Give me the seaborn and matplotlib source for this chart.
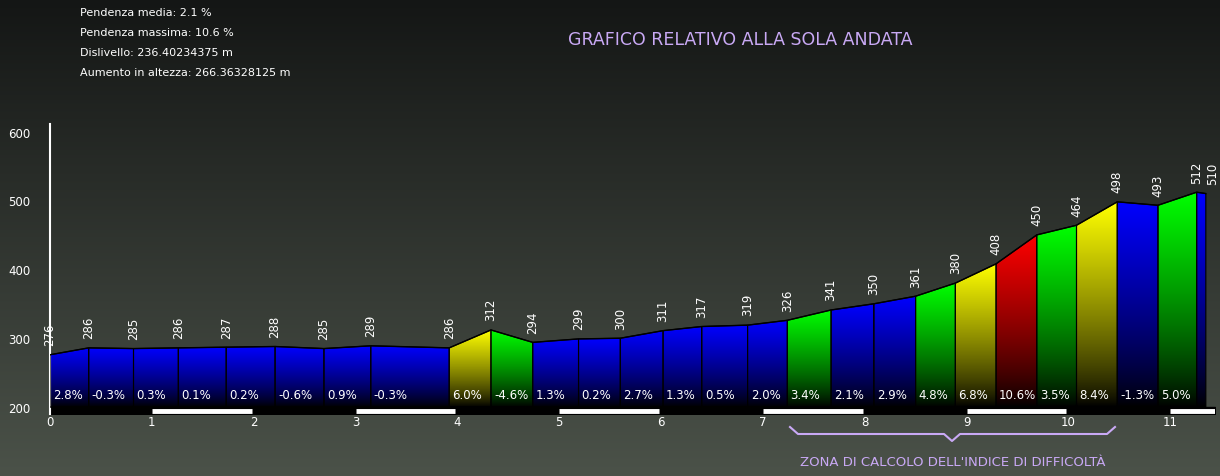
import numpy as np
import pandas as pd
import matplotlib
matplotlib.use("Agg")
import matplotlib.pyplot as plt
import seaborn as sns
from matplotlib.patches import Polygon

# Dati del profilo altimetrico (km, quota in m)
km = [0.0, 0.38, 0.82, 1.26, 1.73, 2.21, 2.69, 3.15, 3.92, 4.33, 4.74, 5.19, 5.60,
      6.02, 6.40, 6.85, 7.24, 7.67, 8.09, 8.50, 8.89, 9.29, 9.69, 10.08, 10.48,
      10.88, 11.26, 11.35]
quota = [276, 286, 285, 286, 287, 288, 285, 289, 286, 312, 294, 299, 300, 311, 317,
         319, 326, 341, 350, 361, 380, 408, 450, 464, 498, 493, 512, 510]
pendenze = ["2.8%", "-0.3%", "0.3%", "0.1%", "0.2%", "-0.6%", "0.9%", "-0.3%", "6.0%",
            "-4.6%", "1.3%", "0.2%", "2.7%", "1.3%", "0.5%", "2.0%", "3.4%", "2.1%",
            "2.9%", "4.8%", "6.8%", "10.6%", "3.5%", "8.4%", "-1.3%", "5.0%", ""]
info = ["Pendenza media: 2.1 %", "Pendenza massima: 10.6 %",
        "Dislivello: 236.40234375 m", "Aumento in altezza: 266.36328125 m"]
yticks = [200, 300, 400, 500, 600]
xticks = list(range(12))

LAVANDA = "#c9a9f5"
W, H = 1220, 477


def colore(p):
    if p == "":
        return "#0000ff"
    v = abs(float(p.rstrip("%")))
    if v > 9:
        return "#ff0000"
    if v > 5:
        return "#ffff00"
    if v >= 3:
        return "#00ff00"
    return "#0000ff"


fig = plt.figure(figsize=(W / 100, H / 100), dpi=100)

# Sfondo sfumato
bg = fig.add_axes([0, 0, 1, 1])
grad = np.linspace(0, 1, 256).reshape(-1, 1)
cmap_bg = matplotlib.colors.LinearSegmentedColormap.from_list("bg", ["#141615", "#4b5249"])
bg.imshow(grad, aspect="auto", cmap=cmap_bg, extent=[0, 1, 0, 1], origin="upper")
bg.set_axis_off()

ax = fig.add_axes([50 / W, 1 - 415 / H, 1165 / W, 290 / H])
ax.patch.set_alpha(0)
YMIN, YMAX = 190, 611
XMAX = 11.44
ax.set_xlim(0, XMAX)
ax.set_ylim(YMIN, YMAX)

# striscia nera sotto quota 200
ax.fill_between([0, XMAX], YMIN, 200, color="black", zorder=1)

# segmenti colorati con sfumatura verso il nero
for i in range(len(km) - 1):
    x0, x1 = km[i], km[i + 1]
    c = np.array(matplotlib.colors.to_rgb(colore(pendenze[i])))
    t = np.linspace(0, 1, 128).reshape(-1, 1, 1) ** 0.8
    img = t * c
    top = max(quota[i], quota[i + 1])
    im = ax.imshow(img, extent=[x0, x1, 200, top], origin="lower", aspect="auto",
                   zorder=2, interpolation="bilinear")
    poly = Polygon([[x0, 200], [x0, quota[i]], [x1, quota[i + 1]], [x1, 200]],
                   closed=True, facecolor="none", edgecolor="black", lw=0.8, zorder=3)
    ax.add_patch(poly)
    im.set_clip_path(poly)
    if pendenze[i]:
        ax.text(x0 + 0.03, 219, pendenze[i], color="white", fontsize=8.5,
                va="center", ha="left", zorder=4)

df = pd.DataFrame({"km": km, "quota": quota})
sns.lineplot(data=df, x="km", y="quota", color="black", lw=1, ax=ax, zorder=4)

for j, (x, q) in enumerate(zip(km, quota)):
    dx = 0.07 if j == len(km) - 1 else 0.0
    ax.text(x + dx, q + 14, str(q), rotation=90, color="white", fontsize=8.5,
            ha="center", va="bottom", zorder=4)

# barre bianche alternate dei km
for k in [1, 3, 5, 7, 9, 11]:
    ax.plot([k, min(k + 0.98, XMAX)], [195, 195], color="white", lw=3.5,
            solid_capstyle="butt", zorder=5)

ax.set_xticks(xticks)
ax.set_xticklabels([str(k) for k in xticks])
ax.set_yticks(yticks)
ax.tick_params(colors="white", labelsize=8.5, length=0, pad=1)
ax.tick_params(axis="y", pad=14)
ax.set_xlabel("")
ax.set_ylabel("")
for s in ["top", "right", "bottom"]:
    ax.spines[s].set_visible(False)
ax.spines["left"].set_color("white")
ax.spines["left"].set_linewidth(1.5)

# testi e parentesi graffa
for j, t in enumerate(info):
    fig.text(80 / W, 1 - (13 + 20 * j) / H, t, color="white", fontsize=8, va="center")
fig.text(740 / W, 1 - 40 / H, "GRAFICO RELATIVO ALLA SOLA ANDATA", color=LAVANDA,
         fontsize=12.5, ha="center", va="center")
fig.text(953 / W, 1 - 463 / H, "ZONA DI CALCOLO DELL'INDICE DI DIFFICOLTÀ",
         color=LAVANDA, fontsize=9.5, ha="center", va="center")

ov = fig.add_axes([0, 0, 1, 1])
ov.set_xlim(0, W)
ov.set_ylim(H, 0)
ov.set_axis_off()
xl, xr, xm, yt, yb = 790, 1115, 952, 428, 438
ov.plot([xl, xl + 8, xm - 8, xm, xm + 8, xr - 8, xr],
        [yt, yb - 3, yb - 3, yb + 4, yb - 3, yb - 3, yt], color=LAVANDA, lw=1.5)

fig.savefig("out.png", dpi=100)
